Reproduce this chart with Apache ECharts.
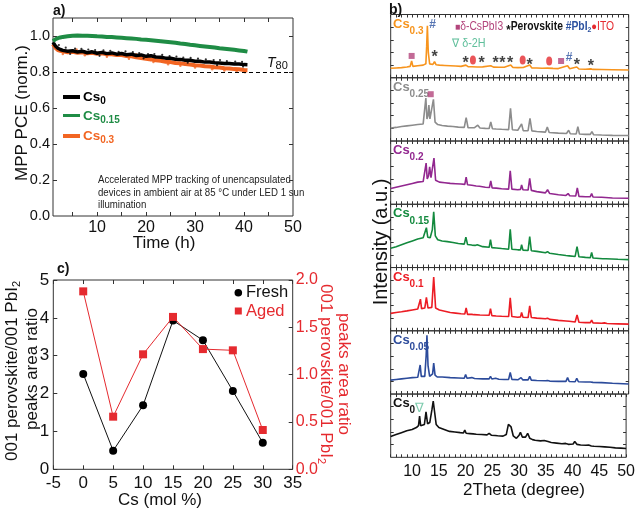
<!DOCTYPE html>
<html><head><meta charset="utf-8">
<script src="https://cdn.jsdelivr.net/npm/echarts@6/dist/echarts.min.js"></script>
<style>html,body{margin:0;padding:0;background:#fff}#c{width:638px;height:511px}</style>
</head><body><div id="c"></div>
<script>
// ---------------- Panel a data ----------------
const timeH = [1,1.5,2,2.5,3,4,5,6,7,8,9,10,11,12,13,14,15,16,17,18,19,20,21,22,23,24,25,26,27,28,29,30,31,32,33,34,35,36,37,38,39,40,40.7];
const pceCs015 = [0.972,0.982,0.988,0.992,0.995,0.999,1.002,1.003,1.002,1.001,1.0,0.998,0.997,0.995,0.994,0.992,0.99,0.988,0.986,0.984,0.981,0.979,0.977,0.974,0.971,0.968,0.965,0.962,0.958,0.955,0.951,0.948,0.945,0.942,0.939,0.936,0.932,0.929,0.926,0.923,0.92,0.917,0.913];
const pceCs0 = [0.965,0.945,0.932,0.925,0.92,0.915,0.918,0.911,0.915,0.907,0.912,0.904,0.909,0.902,0.906,0.899,0.903,0.896,0.899,0.892,0.895,0.887,0.89,0.883,0.882,0.877,0.876,0.871,0.87,0.865,0.865,0.86,0.86,0.855,0.855,0.851,0.85,0.847,0.847,0.844,0.844,0.841,0.84];
const pceCs03 = [0.955,0.935,0.922,0.918,0.915,0.91,0.912,0.907,0.91,0.904,0.907,0.901,0.904,0.899,0.899,0.895,0.894,0.889,0.887,0.882,0.878,0.873,0.87,0.865,0.862,0.857,0.855,0.85,0.848,0.844,0.842,0.837,0.836,0.832,0.83,0.826,0.825,0.821,0.82,0.816,0.815,0.811,0.81];
const dotsCs0 = [[2.2,0.95],[3.6,0.935],[5.5,0.93],[6.8,0.928],[8.2,0.925],[9.6,0.922],[11.3,0.92],[12.7,0.918],[14.4,0.912],[15.8,0.915],[17.3,0.91],[18.6,0.905],[20.4,0.9],[21.7,0.9],[23.3,0.895],[24.8,0.888],[26.2,0.885],[27.6,0.88],[29.1,0.878],[30.6,0.874],[32.2,0.87],[33.8,0.866],[35.1,0.866],[36.5,0.86],[38.2,0.858],[39.6,0.856],[4.5,0.9],[10.5,0.89],[19.5,0.876],[28.5,0.852],[34.5,0.838],[39.8,0.83]];
const dotsCs03 = [[3,0.9],[7.5,0.893],[12,0.885],[16.5,0.873],[21.5,0.855],[24.5,0.843],[27,0.835],[30,0.825],[33.5,0.815],[36,0.808],[38.5,0.803],[40.2,0.799],[5.8,0.925],[18,0.898]];
const t80Level = 0.8;
const xLabelsA = [10,20,30,40,50];
const yLabelsA = [0,0.2,0.4,0.6,0.8,1.0];

// ---------------- Panel c data ----------------
const csMol = [0,5,10,15,20,25,30];
const ratioFresh = [2.52,0.49,1.69,3.93,3.41,2.07,0.70];
const ratioAged = [1.88,0.556,1.215,1.61,1.27,1.257,0.415];

// ---------------- Panel b data (2Theta, normalized intensity) ----------------
const xrdCs03 = [[6,0.15],[7,0.155],[8,0.16],[9,0.17],[9.6,0.18],[9.87,0.265],[10.1,0.18],[11,0.19],[12,0.2],[12.5,0.22],[12.65,0.5],[12.78,0.82],[12.95,0.4],[13.2,0.22],[13.8,0.21],[14.1,0.255],[14.4,0.205],[15,0.2],[16,0.195],[17,0.19],[18,0.185],[19,0.18],[19.9,0.2],[20.3,0.175],[21,0.175],[22,0.17],[23,0.172],[24.5,0.19],[25,0.168],[26,0.165],[27,0.167],[28.2,0.2],[28.6,0.162],[29.5,0.16],[30.5,0.162],[31.7,0.2],[32.1,0.155],[33,0.155],[34,0.15],[35,0.153],[36,0.148],[37,0.145],[38.7,0.19],[39.1,0.142],[40.4,0.17],[40.8,0.138],[42,0.135],[43,0.14],[43.4,0.132],[45,0.13],[47,0.127],[50,0.123]];
const xrdCs025 = [[6,0.205],[7,0.215],[8,0.23],[9,0.24],[10,0.25],[11,0.26],[12,0.27],[12.3,0.3],[12.5,0.68],[12.7,0.35],[12.9,0.4],[13.06,0.57],[13.25,0.35],[13.6,0.35],[13.9,0.66],[14.2,0.3],[14.7,0.26],[15.5,0.245],[16.5,0.235],[17.5,0.23],[18.5,0.22],[19.6,0.215],[19.95,0.37],[20.3,0.21],[21.5,0.21],[22.1,0.25],[22.5,0.205],[23.5,0.2],[24.2,0.198],[24.5,0.3],[24.8,0.195],[25.5,0.19],[26.5,0.185],[27.8,0.18],[28.15,0.515],[28.5,0.178],[29.5,0.17],[30.2,0.27],[30.5,0.165],[31.4,0.163],[31.75,0.36],[32.1,0.16],[33,0.15],[34.6,0.14],[34.95,0.22],[35.3,0.135],[37,0.125],[38.5,0.12],[38.9,0.17],[39.2,0.115],[40.3,0.112],[40.6,0.225],[40.9,0.11],[42,0.105],[42.9,0.105],[43.2,0.15],[43.5,0.1],[45,0.095],[47,0.09],[50,0.087]];
const xrdCs02 = [[6,0.25],[7,0.27],[8,0.29],[9,0.31],[10,0.33],[11,0.35],[12,0.36],[12.35,0.38],[12.55,0.65],[12.75,0.4],[13.0,0.45],[13.2,0.59],[13.45,0.42],[13.75,0.45],[14.0,0.73],[14.3,0.38],[15,0.35],[16,0.34],[17,0.33],[18,0.325],[19,0.32],[19.7,0.315],[19.95,0.43],[20.2,0.31],[21,0.3],[21.8,0.29],[22.1,0.31],[22.4,0.285],[23.5,0.27],[24.25,0.265],[24.5,0.37],[24.75,0.26],[25.5,0.255],[26.5,0.245],[27.8,0.24],[28.1,0.53],[28.4,0.24],[29.5,0.23],[30.0,0.235],[30.2,0.305],[30.45,0.23],[31.4,0.225],[31.7,0.41],[32,0.22],[33,0.2],[34.6,0.18],[35.0,0.23],[35.4,0.17],[37,0.15],[38.4,0.14],[38.8,0.17],[39.1,0.135],[40.2,0.13],[40.5,0.26],[40.8,0.125],[42,0.12],[42.9,0.12],[43.15,0.17],[43.4,0.115],[45,0.11],[47,0.1],[50,0.095]];
const xrdCs015 = [[6,0.305],[7,0.33],[8,0.36],[9,0.39],[10,0.42],[11,0.45],[12,0.47],[12.35,0.49],[12.6,0.63],[12.85,0.48],[13.3,0.47],[13.7,0.6],[13.95,0.88],[14.25,0.5],[14.7,0.44],[15.5,0.42],[16.5,0.41],[17.5,0.395],[18.5,0.38],[19.6,0.37],[19.9,0.48],[20.2,0.365],[21,0.355],[21.6,0.35],[22,0.36],[22.3,0.34],[23,0.33],[24.2,0.32],[24.45,0.44],[24.7,0.315],[25.5,0.31],[26.5,0.3],[27.8,0.29],[28.1,0.605],[28.4,0.29],[29.5,0.28],[30.0,0.28],[30.2,0.36],[30.45,0.275],[31.4,0.27],[31.7,0.49],[32.0,0.265],[33,0.255],[34.6,0.235],[35,0.25],[35.4,0.225],[37,0.205],[38.4,0.19],[38.7,0.2],[39,0.185],[40.1,0.175],[40.45,0.33],[40.8,0.17],[42,0.16],[42.9,0.155],[43.15,0.24],[43.4,0.15],[45.2,0.14],[45.5,0.17],[45.8,0.14],[48,0.13],[50,0.125]];
const xrdCs01 = [[6,0.275],[7,0.29],[8,0.3],[9,0.315],[10,0.33],[11,0.345],[11.3,0.35],[11.5,0.5],[11.7,0.35],[12.3,0.36],[12.6,0.53],[12.9,0.36],[13.6,0.37],[13.95,0.85],[14.3,0.36],[15,0.33],[16,0.31],[17,0.29],[18,0.28],[19,0.27],[19.7,0.265],[19.95,0.36],[20.2,0.26],[21,0.26],[21.2,0.28],[21.4,0.255],[22.5,0.25],[24.2,0.245],[24.45,0.35],[24.7,0.24],[25.5,0.235],[26.5,0.23],[27.8,0.225],[28.1,0.52],[28.4,0.225],[29.5,0.215],[30.0,0.22],[30.2,0.29],[30.45,0.215],[31.4,0.21],[31.7,0.395],[32.0,0.21],[33,0.2],[34.6,0.19],[35,0.2],[35.4,0.18],[37,0.165],[38.4,0.155],[38.7,0.165],[39,0.15],[40.1,0.14],[40.45,0.25],[40.8,0.135],[42,0.13],[42.9,0.13],[43.15,0.17],[43.4,0.125],[45,0.12],[45.5,0.125],[46,0.115],[48,0.11],[50,0.105]];
const xrdCs005 = [[6,0.22],[7,0.23],[8,0.24],[9,0.25],[10,0.26],[11,0.265],[11.3,0.28],[11.45,0.46],[11.65,0.28],[12.3,0.28],[12.55,0.6],[12.7,0.93],[12.9,0.45],[13.2,0.28],[13.75,0.32],[13.95,0.49],[14.2,0.3],[14.6,0.27],[15.5,0.27],[17,0.26],[18.5,0.255],[19.6,0.25],[19.85,0.31],[20.1,0.25],[21,0.26],[21.5,0.245],[23,0.24],[24.2,0.24],[24.45,0.28],[24.7,0.238],[25.4,0.25],[26,0.235],[27,0.23],[27.8,0.232],[28.1,0.34],[28.4,0.232],[29.5,0.225],[30.1,0.26],[30.4,0.225],[31.4,0.225],[31.7,0.28],[32,0.22],[33,0.215],[34.6,0.21],[35,0.215],[35.4,0.205],[37,0.2],[38.4,0.2],[38.7,0.26],[39,0.198],[40.1,0.195],[40.4,0.25],[40.7,0.195],[42,0.19],[42.9,0.19],[43.1,0.2],[43.4,0.185],[45,0.18],[47,0.17],[50,0.16]];
const xrdCs0 = [[6,0.33],[7,0.36],[8,0.39],[9,0.42],[10,0.44],[10.8,0.47],[11.2,0.5],[11.4,0.65],[11.6,0.5],[11.9,0.5],[12.3,0.52],[12.6,0.72],[12.9,0.53],[13.3,0.55],[13.7,0.75],[13.95,0.89],[14.2,0.72],[14.5,0.52],[15,0.47],[16,0.44],[17,0.41],[18,0.4],[19,0.39],[19.6,0.385],[19.85,0.43],[20.1,0.38],[20.8,0.375],[21.1,0.395],[21.4,0.37],[22,0.365],[23,0.36],[24,0.355],[24.4,0.38],[24.8,0.35],[25.5,0.345],[26,0.34],[27,0.335],[27.6,0.36],[28.0,0.52],[28.2,0.55],[28.5,0.48],[28.9,0.34],[29.5,0.3],[30.0,0.35],[30.25,0.395],[30.6,0.32],[31.2,0.32],[31.6,0.38],[32.0,0.3],[32.5,0.28],[33,0.27],[34,0.26],[34.7,0.265],[35.0,0.27],[35.4,0.25],[36,0.235],[37,0.225],[38,0.215],[38.7,0.22],[39.2,0.205],[40.1,0.21],[40.4,0.25],[40.8,0.205],[41.5,0.195],[42.5,0.19],[43.0,0.195],[43.5,0.18],[44,0.175],[45,0.17],[46,0.165],[47,0.16],[48,0.15],[49,0.145],[50,0.14]];
const xrdPatterns = [xrdCs03, xrdCs025, xrdCs02, xrdCs015, xrdCs01, xrdCs005, xrdCs0];
const xrdSubs = ['0.3','0.25','0.2','0.15','0.1','0.05','0'];
const xLabelsB = [10,15,20,25,30,35,40,45,50];
// peak markers in the Cs0.3 panel
const mkSquare = [[9.87,0.345],[37.5,0.265]];
const mkStar = [[14.1,0.387],[19.87,0.28],[22.8,0.28],[25.4,0.28],[26.65,0.28],[28.06,0.28],[31.7,0.26],[40.4,0.26],[43.0,0.245]];
const mkITO = [[21.2,0.28],[30.4,0.28],[35.3,0.265]];
const mkPbI2 = [[13.75,0.835],[39.0,0.31]];
const mkSquare025 = [[13.4,0.74]];
const mk2H = [[11.4,0.78]];

// ---------------- styling ----------------
const FF = '"Liberation Sans", Arial, Helvetica, sans-serif';
const AX = '#333';
const RED = '#e52a2f', PINK = '#b3457c', BLUE = '#2d52a0', TEAL = '#5fbf9b';
const colA = {cs0:'#000000', cs015:'#1f8c45', cs03:'#f26522'};
const colB = ['#f7941d','#8c8c8c','#92278f','#138a3e','#ec1c24','#2c4b9b','#111111'];

const cv = document.createElement('canvas').getContext('2d');
function tw(t, s, w, i){ cv.font = (i||'normal')+' '+(w||'normal')+' '+s+'px '+FF; return cv.measureText(t).width; }
function rt(x, y, parts, o){
  o = o || {};
  let cx = 0; const kids = [];
  parts.forEach(p => {
    kids.push({type:'text', x:cx, y:p.dy||0, style:{text:p.t, fontSize:p.s, fontWeight:p.w||'normal', fontStyle:p.i||'normal', fontFamily:FF, fill:p.c||o.c||'#111', align:'left', verticalAlign:'middle'}});
    cx += tw(p.t, p.s, p.w, p.i);
  });
  const off = o.align==='center' ? -cx/2 : (o.align==='right' ? -cx : 0);
  kids.forEach(k => { k.x += off; });
  return {type:'group', x:x, y:y, rotation:o.rot||0, scaleX:o.sx||1, scaleY:1, children:kids, z:100, silent:true};
}

// ---------------- layout ----------------
const gA = {left:53, top:18, width:240, height:198};
const gC = {left:53.3, top:280, width:239.4, height:189.3};
const bLeft = 390.7, bWidth = 238, bTop = 14.5, bH = 63.26;

const grids = [], xAxes = [], yAxes = [], series = [];
function gridBox(g){ return Object.assign({show:true, borderColor:AX, borderWidth:1, backgroundColor:'transparent', containLabel:false}, g); }
grids.push(gridBox(gA));
grids.push(gridBox(gC));
for (let i=0;i<7;i++) grids.push(gridBox({left:bLeft, top:bTop+i*bH, width:bWidth, height:bH}));

const tk = (vals, len) => ({show:true, inside:true, length:len||4, lineStyle:{color:AX}, customValues:vals});
const tkI = {show:true, inside:true, length:4, lineStyle:{color:AX}};
const noLine = {show:false, onZero:false};
const noSplit = {show:false};

// panel a axes
xAxes.push({gridIndex:0, type:'value', min:1, max:50, position:'bottom', axisLine:noLine, splitLine:noSplit,
  axisTick:tk([5,10,15,20,25,30,35,40,45]), axisLabel:{customValues:xLabelsA, fontSize:16, color:'#111', fontFamily:FF, margin:4}});
xAxes.push({gridIndex:0, type:'value', min:1, max:50, position:'top', axisLine:noLine, splitLine:noSplit,
  axisTick:tk([5,10,15,20,25,30,35,40,45]), axisLabel:{show:false}});
yAxes.push({gridIndex:0, type:'value', min:0, max:1.1, position:'left', axisLine:noLine, splitLine:noSplit,
  axisTick:tk([0.2,0.4,0.6,0.8,1.0]), axisLabel:{customValues:yLabelsA, formatter:v=>v.toFixed(1), fontSize:14.5, color:'#111', fontFamily:FF, margin:3}});
yAxes.push({gridIndex:0, type:'value', min:0, max:1.1, position:'right', axisLine:noLine, splitLine:noSplit,
  axisTick:tk([0.2,0.4,0.6,0.8,1.0]), axisLabel:{show:false}});
// panel c axes
xAxes.push({gridIndex:1, type:'value', min:-5, max:35, interval:5, position:'bottom', axisLine:noLine, splitLine:noSplit,
  axisTick:tkI, axisLabel:{fontSize:17, color:'#111', fontFamily:FF, margin:6}});
xAxes.push({gridIndex:1, type:'value', min:-5, max:35, interval:5, position:'top', axisLine:noLine, splitLine:noSplit,
  axisTick:tkI, axisLabel:{show:false}});
yAxes.push({gridIndex:1, type:'value', min:0, max:5, interval:1, position:'left', axisLine:noLine, splitLine:noSplit,
  axisTick:tkI, axisLabel:{fontSize:17, color:'#111', fontFamily:FF, margin:4}});
yAxes.push({gridIndex:1, type:'value', min:0, max:2, interval:0.5, position:'right', axisLine:noLine, splitLine:noSplit,
  axisTick:tkI, axisLabel:{formatter:v=>v.toFixed(1), fontSize:16, color:RED, fontFamily:FF, margin:3}});
// panel b axes
const bTicks = []; for (let v=6; v<=50; v++) bTicks.push(v);
for (let i=0;i<7;i++){
  const gi = 2+i;
  xAxes.push({gridIndex:gi, type:'value', min:6, max:50, position:'bottom', axisLine:noLine, splitLine:noSplit,
    axisTick:tk(bTicks,3), axisLabel: i===6 ? {customValues:xLabelsB, fontSize:16, color:'#111', fontFamily:FF, margin:6} : {show:false}});
  xAxes.push({gridIndex:gi, type:'value', min:6, max:50, position:'top', axisLine:noLine, splitLine:noSplit,
    axisTick:tk(bTicks,3), axisLabel:{show:false}});
  yAxes.push({gridIndex:gi, type:'value', min:0, max:1, position:'left', axisLine:noLine, splitLine:noSplit,
    axisTick:tk([0.2,0.4,0.6,0.8],3), axisLabel:{show:false}});
  yAxes.push({gridIndex:gi, type:'value', min:0, max:1, position:'right', axisLine:noLine, splitLine:noSplit,
    axisTick:tk([0.2,0.4,0.6,0.8],3), axisLabel:{show:false}});
}

// ---------------- series ----------------
const zipT = arr => timeH.map((t,k)=>[t, arr[k]]);
series.push({type:'line', xAxisIndex:0, yAxisIndex:0, data:zipT(pceCs03), symbol:'none', lineStyle:{width:4, color:colA.cs03}, z:2,
  markLine:{silent:true, symbol:'none', label:{show:false}, lineStyle:{type:[4,3], color:'#000', width:1}, data:[{yAxis:t80Level}]}});
series.push({type:'scatter', xAxisIndex:0, yAxisIndex:0, data:dotsCs03, symbolSize:2.5, itemStyle:{color:colA.cs03}, z:2});
series.push({type:'line', xAxisIndex:0, yAxisIndex:0, data:zipT(pceCs0), symbol:'none', lineStyle:{width:3.5, color:colA.cs0}, z:3});
series.push({type:'scatter', xAxisIndex:0, yAxisIndex:0, data:dotsCs0, symbolSize:2.2, itemStyle:{color:'#000'}, z:3});
series.push({type:'line', xAxisIndex:0, yAxisIndex:0, data:zipT(pceCs015), symbol:'none', lineStyle:{width:4, color:colA.cs015}, z:4});

series.push({type:'line', xAxisIndex:2, yAxisIndex:2, data:csMol.map((c,k)=>[c,ratioFresh[k]]), symbol:'circle', symbolSize:8,
  lineStyle:{width:1, color:'#111'}, itemStyle:{color:'#000'}, z:3});
series.push({type:'line', xAxisIndex:2, yAxisIndex:3, data:csMol.map((c,k)=>[c,ratioAged[k]]), symbol:'rect', symbolSize:8,
  lineStyle:{width:1, color:RED}, itemStyle:{color:RED}, z:4});

for (let i=0;i<7;i++){
  series.push({type:'line', xAxisIndex:4+2*i, yAxisIndex:4+2*i, data:xrdPatterns[i], symbol:'none',
    lineStyle:{width:1.6, color:colB[i]}, z:2});
}
const txtScatter = (data, ch, color, size, weight, offY, axis) => ({type:'scatter', xAxisIndex:axis, yAxisIndex:axis, data:data,
  symbol:'circle', symbolSize:2, itemStyle:{color:'rgba(0,0,0,0)'}, z:6,
  label:{show:true, position:'inside', formatter:ch, color:color, fontSize:size, fontWeight:weight, fontFamily:FF, offset:[0,offY]}});
series.push({type:'scatter', xAxisIndex:4, yAxisIndex:4, data:mkSquare, symbol:'rect', symbolSize:6, itemStyle:{color:PINK}, z:6});
series.push({type:'scatter', xAxisIndex:6, yAxisIndex:6, data:mkSquare025, symbol:'rect', symbolSize:6, itemStyle:{color:PINK}, z:6});
series.push({type:'scatter', xAxisIndex:4, yAxisIndex:4, data:mkITO, symbol:'circle', symbolSize:[6,9], itemStyle:{color:RED}, z:6});
series.push(txtScatter(mkStar, '*', '#111', 16, 'bold', 4, 4));
series.push(txtScatter(mkPbI2, '#', BLUE, 12, 'bold', 0, 4));
series.push(txtScatter(mk2H, '∇', TEAL, 13, 'normal', 0, 16));

// ---------------- texts ----------------
const G = [];
G.push(rt(53, 11, [{t:'a)', s:14, w:'bold'}]));
G.push(rt(389, 10, [{t:'b)', s:14, w:'bold'}]));
G.push(rt(57, 269, [{t:'c)', s:14, w:'bold'}]));
// panel a
G.push(rt(22, 113, [{t:'MPP PCE (norm.)', s:17}], {align:'center', rot:Math.PI/2}));
G.push(rt(164, 243, [{t:'Time (h)', s:17}], {align:'center'}));
const legA = [[97, colA.cs0, '0', 4],[115.5, colA.cs015, '0.15', 3],[136, colA.cs03, '0.3', 4]];
legA.forEach(([y,c,sub,lw]) => {
  G.push({type:'line', shape:{x1:63, y1:y, x2:80, y2:y}, style:{stroke:c, lineWidth:lw}, z:100, silent:true});
  G.push(rt(83, y+0.5, [{t:'Cs', s:13.5, w:'bold', c:c},{t:sub, s:10, w:'bold', c:c, dy:4}]));
});
G.push(rt(267, 63, [{t:'T', s:14, i:'italic', c:'#111'},{t:'80', s:11, c:'#111', dy:3}]));
G.push(rt(98, 180, [{t:'Accelerated MPP tracking of unencapsulated', s:10.5, c:'#222'}], {sx:0.92}));
G.push(rt(98, 192.7, [{t:'devices in ambient air at 85 °C under LED 1 sun', s:10.5, c:'#222'}], {sx:0.92}));
G.push(rt(98, 205, [{t:'illumination', s:10.5, c:'#222'}], {sx:0.92}));
// panel c
G.push(rt(12, 371, [{t:'001 perovskite/001 PbI', s:17},{t:'2', s:11, dy:5}], {align:'center', rot:Math.PI/2}));
G.push(rt(32, 369, [{t:'peaks area ratio', s:17}], {align:'center', rot:Math.PI/2}));
G.push(rt(326, 374, [{t:'001 perovskite/001 PbI', s:17, c:RED},{t:'2', s:11, c:RED, dy:5}], {align:'center', rot:-Math.PI/2}));
G.push(rt(344, 374, [{t:'peaks area ratio', s:17, c:RED}], {align:'center', rot:-Math.PI/2}));
G.push({type:'circle', shape:{cx:238.3, cy:292.7, r:3.8}, style:{fill:'#000'}, z:100, silent:true});
G.push(rt(246, 292.7, [{t:'Fresh', s:16.5}]));
G.push({type:'rect', shape:{x:234.8, y:307.5, width:7, height:7}, style:{fill:RED}, z:100, silent:true});
G.push(rt(246, 311, [{t:'Aged', s:16.5, c:RED}]));
G.push(rt(160, 500, [{t:'Cs (mol %)', s:17}], {align:'center'}));
// panel b
G.push(rt(381.7, 242, [{t:'Intensity (a.u.)', s:20}], {align:'center', rot:Math.PI/2}));
G.push(rt(524, 490, [{t:'2Theta (degree)', s:17}], {align:'center'}));
G.push(rt(455, 27, [{t:'■', s:10, c:PINK},{t:'δ-CsPbI3', s:12, c:PINK},{t:' *', s:13, w:'bold', c:'#111', dy:3},{t:'Perovskite', s:12, w:'bold', c:'#111'},
  {t:' #PbI', s:12, w:'bold', c:BLUE},{t:'2', s:8, w:'bold', c:BLUE, dy:3},{t:'●', s:11, c:RED},{t:'ITO', s:12, c:RED}], {sx:0.86}));
G.push(rt(452, 44, [{t:'∇ δ-2H', s:12, c:TEAL}], {sx:0.9}));
for (let i=0;i<7;i++){
  const T = bTop + i*bH;
  G.push(rt(393, T+9.5, [{t:'Cs', s:13, w:'bold', c:colB[i]},{t:xrdSubs[i], s:10, w:'bold', c:colB[i], dy:7}]));
}

const chart = echarts.init(document.getElementById('c'), null, {renderer:'canvas'});
chart.setOption({
  animation:false,
  backgroundColor:'#fff',
  textStyle:{fontFamily:FF},
  grid:grids, xAxis:xAxes, yAxis:yAxes, series:series, graphic:G
});
</script></body></html>
